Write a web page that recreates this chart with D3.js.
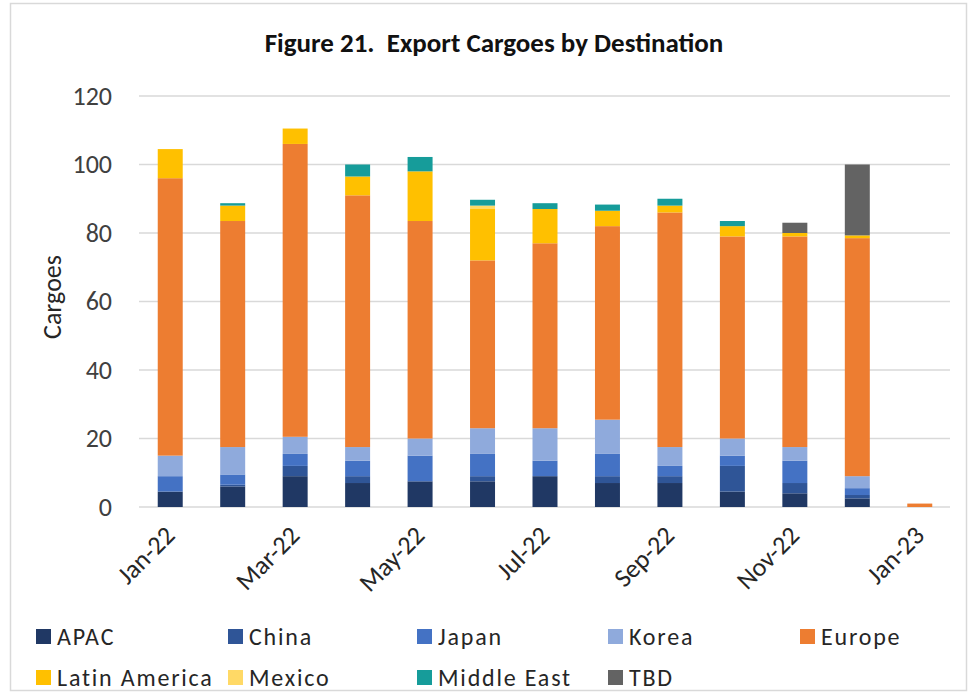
<!DOCTYPE html>
<html>
<head>
<meta charset="utf-8">
<script src="https://cdn.jsdelivr.net/npm/d3@7"></script>
<style>
  html, body { margin: 0; padding: 0; background: #ffffff; }
  svg { display: block; }
  text { font-family: Carlito, Calibri, Lato, "Open Sans", sans-serif; }
</style>
</head>
<body>
<svg id="chart" width="973" height="692"></svg>
<script>
const months = ["Jan-22","Feb-22","Mar-22","Apr-22","May-22","Jun-22","Jul-22","Aug-22","Sep-22","Oct-22","Nov-22","Dec-22","Jan-23"];
const tickMonths = ["Jan-22","Mar-22","May-22","Jul-22","Sep-22","Nov-22","Jan-23"];
const seriesNames = ["APAC","China","Japan","Korea","Europe","Latin America","Mexico","Middle East","TBD"];
const seriesColors = ["#203864","#2f5597","#4472c4","#8faadc","#ed7d31","#ffc000","#ffd966","#169c9a","#636363"];

const apac         = [4.5, 6,   9,   7,   7.5, 7.5, 9,   7,   7,   4.5, 4,   2.5, 0];
const china        = [0,   0.5, 3,   2,   0,   1.5, 0,   2,   2,   7.5, 3,   1,   0];
const japan        = [4.5, 3,   3.5, 4.5, 7.5, 6.5, 4.5, 6.5, 3,   3,   6.5, 2,   0];
const korea        = [6,   8,   5,   4,   5,   7.5, 9.5, 10,  5.5, 5,   4,   3.5, 0];
const europe       = [81,  66,  85.5,73.5,63.5,49,  54,  56.5,68.5,59,  61.5,69.5,1];
const latinAmerica = [8.5, 4.5, 4.5, 5.5, 14.5,15,  10,  4.5, 2,   3,   1,   0.8, 0];
const mexico       = [0,   0,   0,   0,   0,   1,   0,   0,   0,   0,   0,   0,   0];
const middleEast   = [0,   0.7, 0,   3.5, 4.2, 1.7, 1.7, 1.8, 2,   1.5, 0,   0,   0];
const tbd          = [0,   0,   0,   0,   0,   0,   0,   0,   0,   0,   3,   20.7,0];

const yTicks = [0,20,40,60,80,100,120];

const seriesValues = [apac, china, japan, korea, europe, latinAmerica, mexico, middleEast, tbd];
const rows = months.map((m, i) => {
  const r = { month: m };
  seriesNames.forEach((s, j) => { r[s] = seriesValues[j][i]; });
  return r;
});

const svg = d3.select("#chart");

// outer border
svg.append("rect")
  .attr("x", 10.5).attr("y", 3.5)
  .attr("width", 956).attr("height", 687)
  .attr("fill", "none").attr("stroke", "#d9d9d9").attr("stroke-width", 1.5);

const x = d3.scaleBand().domain(months).range([139, 951]).paddingInner(0.6).paddingOuter(0.3);
const y = d3.scaleLinear().domain([0, 120]).range([507, 96]);

// gridlines
svg.append("g").selectAll("line").data(yTicks).join("line")
  .attr("x1", 139).attr("x2", 950)
  .attr("y1", d => y(d)).attr("y2", d => y(d))
  .attr("stroke", "#d9d9d9").attr("stroke-width", 1.3);

// y axis labels
const yAxis = d3.axisLeft(y).tickValues(yTicks).tickSize(0).tickPadding(0);
const gy = svg.append("g").attr("transform", "translate(112,0)").call(yAxis);
gy.select(".domain").remove();
gy.selectAll("text").attr("font-size", 26).attr("fill", "#404040")
  .style("font-family", "Carlito, Calibri, Lato, sans-serif");

// stacked bars
const stack = d3.stack().keys(seriesNames);
const stacked = stack(rows);
svg.append("g").selectAll("g").data(stacked).join("g")
  .attr("fill", (d, i) => seriesColors[i])
  .selectAll("rect").data(d => d).join("rect")
  .attr("x", d => x(d.data.month))
  .attr("width", x.bandwidth())
  .attr("y", d => y(d[1]))
  .attr("height", d => Math.max(0, y(d[0]) - y(d[1])));

// x axis labels
const xAxis = d3.axisBottom(x).tickValues(tickMonths).tickSize(0).tickPadding(0);
const gx = svg.append("g").attr("transform", "translate(0,507)").call(xAxis);
gx.select(".domain").remove();
gx.selectAll("text")
  .attr("font-size", 26).attr("fill", "#262626")
  .attr("text-anchor", "end")
  .attr("dy", 0)
  .attr("y", 0)
  .attr("transform", "translate(6,30) rotate(-45)")
  .style("font-family", "Carlito, Calibri, Lato, sans-serif");

// y title
svg.append("text")
  .attr("transform", "translate(61,297) rotate(-90)")
  .attr("text-anchor", "middle")
  .attr("font-size", 26).attr("fill", "#262626")
  .text("Cargoes");

// title
svg.append("text")
  .attr("x", 494).attr("y", 52)
  .attr("text-anchor", "middle")
  .attr("font-size", 27).attr("font-weight", "bold").attr("fill", "#111")
  .attr("xml:space", "preserve")
  .text("Figure 21.  Export Cargoes by Destination");

// legend
const legendX = [36, 228, 417, 608, 800];
const legendY = [636, 677];
const leg = svg.append("g").selectAll("g").data(seriesNames).join("g")
  .attr("transform", (d, i) => `translate(${legendX[i % 5]},${legendY[Math.floor(i / 5)]})`);
leg.append("rect").attr("x", 0).attr("y", -7).attr("width", 15).attr("height", 15)
  .attr("fill", (d, i) => seriesColors[i]);
leg.append("text").attr("x", 21).attr("y", 0).attr("dy", "0.36em")
  .attr("font-size", 24).attr("letter-spacing", 1.8).attr("fill", "#262626")
  .text(d => d);
</script>
</body>
</html>
